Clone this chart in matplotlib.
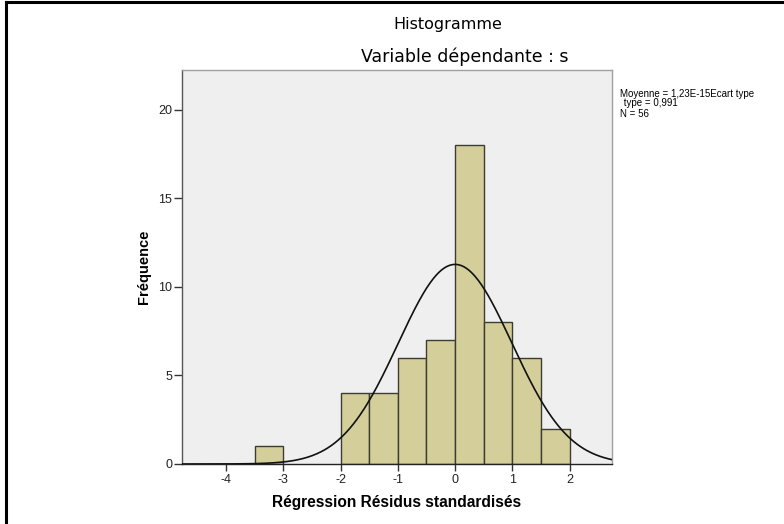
import numpy as np
import matplotlib
matplotlib.use("Agg")
import matplotlib.pyplot as plt
from matplotlib.lines import Line2D

plt.rcParams['font.family'] = ['Liberation Sans', 'DejaVu Sans']

# Histogram of standardized residuals (bin width 0.5)
bin_left = [-3.5, -2.0, -1.5, -1.0, -0.5, 0.0, 0.5, 1.0, 1.5]
counts = [1, 4, 4, 6, 7, 18, 8, 6, 2]
bin_width = 0.5
x_ticks = [-4, -3, -2, -1, 0, 1, 2]
y_ticks = [0, 5, 10, 15, 20]

mean_val = 1.23e-15
std_val = 0.991
n_obs = 56

fig = plt.figure(figsize=(7.84, 5.24), dpi=100)
ax = fig.add_axes([182 / 784, 1 - 464 / 524, 430 / 784, 394 / 524])
ax.set_facecolor('#efefef')

ax.bar(bin_left, counts, width=bin_width, align='edge',
       color='#d4cf9a', edgecolor='#3c3c30', linewidth=1.0, zorder=2)

# Normal curve scaled to the histogram
xs = np.linspace(-4.77, 2.74, 400)
ys = n_obs * bin_width / (std_val * np.sqrt(2 * np.pi)) * np.exp(-0.5 * ((xs - mean_val) / std_val) ** 2)
ax.plot(xs, ys, color='#111111', linewidth=1.2, zorder=3)

ax.set_xlim(-4.77, 2.74)
ax.set_ylim(0, 22.25)
ax.set_xticks(x_ticks)
ax.set_xticklabels([str(t) for t in x_ticks])
ax.set_yticks(y_ticks)
ax.set_yticklabels([str(t) for t in y_ticks])

for side in ['top', 'right']:
    ax.spines[side].set_color('#a0a0a0')
    ax.spines[side].set_linewidth(1.0)
ax.spines['left'].set_color('#555555')
ax.spines['left'].set_linewidth(1.0)
ax.spines['bottom'].set_color('#222222')
ax.spines['bottom'].set_linewidth(1.0)

ax.tick_params(axis='y', direction='out', length=6, width=1, color='#333333',
               labelsize=9, labelcolor='#222222', pad=1)
ax.tick_params(axis='x', direction='out', length=5, width=1, color='#333333',
               labelsize=9, labelcolor='#222222', pad=2)

ax.set_xlabel('Régression Résidus standardisés', fontsize=11.2, fontweight='bold', labelpad=7)
ax.set_ylabel('Fréquence', fontsize=10.5, fontweight='bold', labelpad=5)

fig.text(448 / 784, 1 - 25 / 524, 'Histogramme', ha='center', va='center',
         fontsize=11.5, family=['DejaVu Sans'])
fig.text(465 / 784, 1 - 57 / 524, 'Variable dépendante : s', ha='center', va='center',
         fontsize=12.5, family=['DejaVu Sans'])

# Summary statistics
fig.text(620 / 784, 1 - 97 / 524, 'Moyenne = 1,23E-15Ecart type', ha='left', va='baseline', fontsize=7)
fig.text(621 / 784, 1 - 106 / 524, ' type = 0,991', ha='left', va='baseline', fontsize=7)
fig.text(620 / 784, 1 - 117 / 524, 'N = 56', ha='left', va='baseline', fontsize=7)

# Outer frame (left and top edges)
fig.add_artist(Line2D([6 / 784, 6 / 784], [0, 1 - 2 / 524], color='black', linewidth=2.2,
                      transform=fig.transFigure, solid_capstyle='projecting'))
fig.add_artist(Line2D([6 / 784, 1], [1 - 2 / 524, 1 - 2 / 524], color='black', linewidth=2.2,
                      transform=fig.transFigure, solid_capstyle='projecting'))

fig.savefig('out.png', dpi=100, facecolor='white')
